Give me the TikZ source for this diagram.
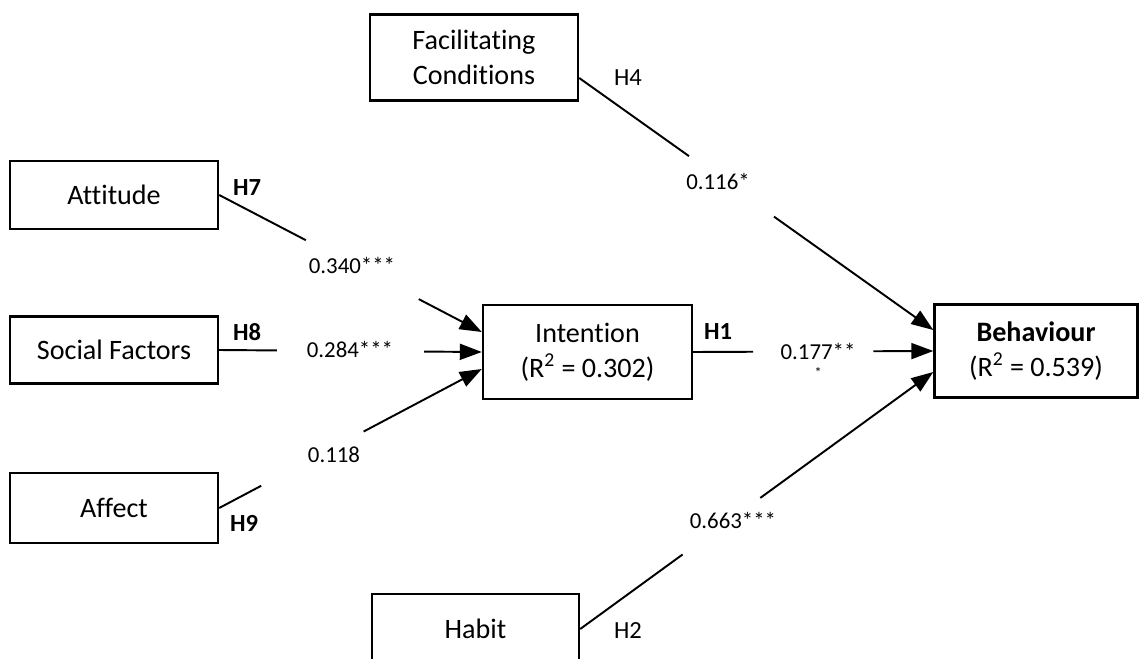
\documentclass[tikz,border=0pt]{standalone}
\usepackage{fontspec}
\setmainfont{Carlito}[Ligatures=NoCommon]
\usetikzlibrary{arrows.meta}

\tikzset{
  box/.style={draw, line width=1.4pt, align=center, font=\fontsize{16}{20}\selectfont},
  link/.style={line width=1.1pt},
  arr/.style={link, -{Triangle[length=0.44cm, width=0.32cm]}},
  coef/.style={font=\fontsize{13}{15}\selectfont},
  hyp/.style={font=\fontsize{14}{16}\selectfont},
}

\begin{document}
\begin{tikzpicture}[x=0.02cm, y=-0.02cm]
\useasboundingbox (0,0) rectangle (1139,659);
\clip (0,0) rectangle (1139,659);

% constructs
\node[box, minimum width=4.16cm, minimum height=1.72cm] (fc) at (474,57.5) {Facilitating\\Conditions};
\node[box, minimum width=4.16cm, minimum height=1.36cm] (att) at (114,195) {Attitude};
\node[box, minimum width=4.16cm, minimum height=1.34cm] (soc) at (114,350) {Social Factors};
\node[box, minimum width=4.16cm, minimum height=1.40cm] (aff) at (114,508) {Affect};
\node[box, minimum width=4.18cm, minimum height=1.88cm] (int) at (587.5,352) {Intention\\(R\textsuperscript{2} = 0.302)};
\node[box, minimum width=4.06cm, minimum height=1.86cm] (beh) at (1036,351) {\textbf{Behaviour}\\(R\textsuperscript{2} = 0.539)};
\node[box, minimum width=4.14cm, minimum height=1.40cm] (hab) at (475.5,629) {Habit};

% paths, each broken where its coefficient sits
\path (att.east) -- ([yshift=0.4cm]int.west) coordinate[pos=0.33] (a1) coordinate[pos=0.76] (a2);
\draw[link] (att.east) -- (a1);
\draw[arr] (a2) -- ([yshift=0.4cm]int.west);

\path (soc.east) -- (int.west) coordinate[pos=0.22] (s1) coordinate[pos=0.78] (s2);
\draw[link] (soc.east) -- (s1);
\draw[arr] (s2) -- (int.west);

\path (aff.east) -- ([yshift=-0.34cm]int.west) coordinate[pos=0.16] (f1) coordinate[pos=0.55] (f2);
\draw[link] (aff.east) -- (f1);
\draw[arr] (f2) -- ([yshift=-0.34cm]int.west);

\path (int.east) -- (beh.west) coordinate[pos=0.25] (i1) coordinate[pos=0.75] (i2);
\draw[link] (int.east) -- (i1);
\draw[arr] (i2) -- (beh.west);

\path ([yshift=-0.41cm]fc.east) -- ([yshift=0.42cm]beh.west) coordinate[pos=0.31] (c1) coordinate[pos=0.55] (c2);
\draw[link] ([yshift=-0.41cm]fc.east) -- (c1);
\draw[arr] (c2) -- ([yshift=0.42cm]beh.west);

\path (hab.east) -- ([yshift=-0.42cm]beh.west) coordinate[pos=0.29] (h1) coordinate[pos=0.51] (h2);
\draw[link] (hab.east) -- (h1);
\draw[arr] (h2) -- ([yshift=-0.42cm]beh.west);

% coefficients
\node[coef] (k116) at (718,181) {0.116*};
\node[coef] (k340) at (352,265) {0.340***};
\node[coef] (k284) at (350,349) {0.284***};
\node[coef] (k118) at (334,455) {0.118};
\node[coef] (k177) at (818,351) {0.177**};
\node[font=\fontsize{8}{9}\selectfont] (kst) at (818,373) {*};
\node[coef] (k663) at (733,520) {0.663***};

% hypotheses
\node[hyp] (h4) at (628,78) {H4};
\node[hyp, font=\bfseries\fontsize{14}{16}\selectfont] (h7) at (247,188) {H7};
\node[hyp, font=\bfseries\fontsize{14}{16}\selectfont] (h8) at (247,332) {H8};
\node[hyp, font=\bfseries\fontsize{14}{16}\selectfont] (h9) at (244,523) {H9};
\node[hyp, font=\bfseries\fontsize{14}{16}\selectfont] (h1) at (718,332) {H1};
\node[hyp] (h2) at (628,631) {H2};
\end{tikzpicture}
\end{document}
